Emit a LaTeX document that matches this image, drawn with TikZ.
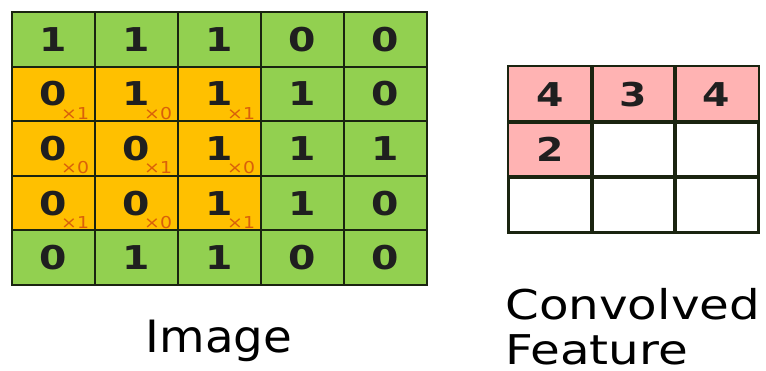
\documentclass[tikz,border=0pt]{standalone}
\usepackage{fontspec}
\setmainfont{DejaVu Sans}
\usetikzlibrary{positioning}

\definecolor{cellgreen}{HTML}{92D050}
\definecolor{cellorange}{HTML}{FFC000}
\definecolor{cellpink}{HTML}{FFB3B3}
\definecolor{wtcolor}{HTML}{D9600A}
\definecolor{gridline}{HTML}{1A2410}

\tikzset{
  cell/.style={draw=gridline,line width=1.6pt,minimum width=2.49cm,minimum height=1.638cm,
    inner sep=0pt},
  digit/.style={font=\fontsize{28}{28}\selectfont\bfseries,text=black!88,xscale=1.2,inner sep=0pt},
  wt/.style={text=wtcolor,font=\fontsize{14}{14}\selectfont,xscale=1.15,inner sep=0pt},
  caption/.style={font=\fontsize{38}{38}\selectfont,inner sep=0pt,text depth=0pt}
}

\begin{document}
\begin{tikzpicture}[x=0.03cm,y=-0.03cm]
  \useasboundingbox (0,0) rectangle (766,371);

  % input image, 5x5
  \foreach \row [count=\r] in {{1,1,1,0,0},{0,1,1,1,0},{0,0,1,1,1},{0,0,1,1,0},{0,1,1,0,0}}
    \foreach \v [count=\c] in \row {
      \pgfmathsetmacro\cx{12+83*(\c-0.5)}
      \pgfmathsetmacro\cy{12+54.6*(\r-0.5)}
      \pgfmathparse{(\r>1 && \r<5 && \c<4) ? "cellorange" : "cellgreen"}
      \edef\cellcol{\pgfmathresult}
      \node[cell,fill=\cellcol] (img-\r-\c) at (\cx,\cy) {};
      \node[digit] at (img-\r-\c) {\v};
    }

  % kernel weights
  \foreach \r/\c/\w in {2/1/1,2/2/0,2/3/1,3/1/0,3/2/1,3/3/0,4/1/1,4/2/0,4/3/1}
    \node[wt,anchor=base east] at ([xshift=-0.2cm,yshift=0.09cm]img-\r-\c.south east) {×\w};

  % convolved feature, 3x3
  \foreach \r in {1,2,3}
    \foreach \c in {1,2,3} {
      \pgfmathsetmacro\cx{509+83*(\c-0.5)}
      \pgfmathsetmacro\cy{67+55*(\r-0.5)}
      \node[cell,minimum height=1.65cm] (feat-\r-\c) at (\cx,\cy) {};
    }
  \foreach \r/\c/\v in {1/1/4,1/2/3,1/3/4,2/1/2} {
    \fill[cellpink] ([shift={(0.03cm,-0.03cm)}]feat-\r-\c.north west) rectangle ([shift={(-0.03cm,0.03cm)}]feat-\r-\c.south east);
    \node[digit] at (feat-\r-\c) {\v};
  }
  \foreach \r in {1,2,3}
    \foreach \c in {1,2,3}
      \draw[draw=gridline,line width=1.6pt] (feat-\r-\c.north west) rectangle (feat-\r-\c.south east);

  % captions
  \node[caption,anchor=base,xscale=1.05] (lbl-img) at (219,352) {Image};
  \node[caption,anchor=base west,font=\fontsize{35}{35}\selectfont,xscale=1.18] (lbl-conv) at (505,319) {Convolved};
  \node[caption,anchor=base west,font=\fontsize{35}{35}\selectfont,xscale=1.18] (lbl-feat) at (505,364) {Feature};
\end{tikzpicture}
\end{document}
